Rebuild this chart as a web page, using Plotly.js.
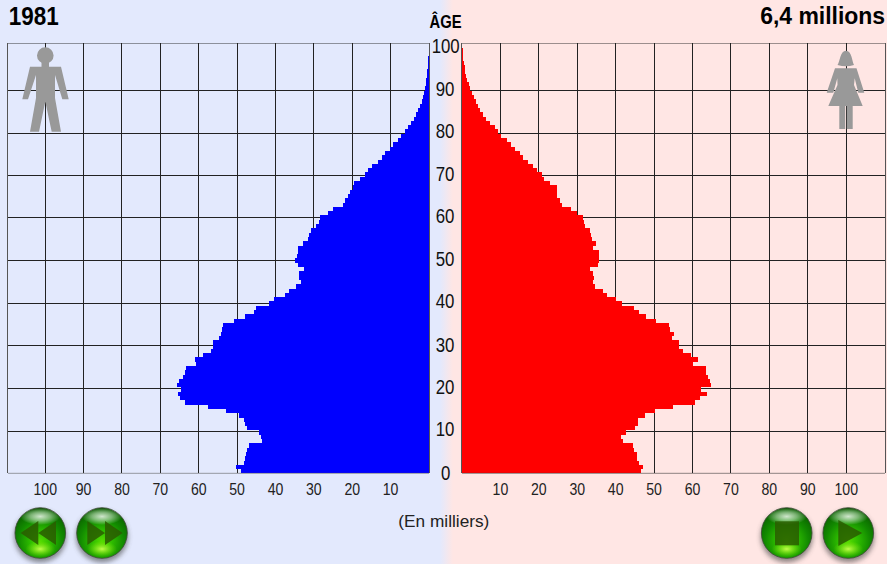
<!DOCTYPE html>
<html><head><meta charset="utf-8">
<script src="https://cdn.plot.ly/plotly-3.0.1.min.js"></script>
<style>
html,body{margin:0;padding:0;width:887px;height:564px;overflow:hidden;background:linear-gradient(to right,#e3e9fd 0,#e3e9fd 440px,#ffe6e4 453px,#ffe6e4 100%);}
#c{width:887px;height:564px;}
</style></head><body><div id="c"></div>
<script>
var ages=[0,1,2,3,4,5,6,7,8,9,10,11,12,13,14,15,16,17,18,19,20,21,22,23,24,25,26,27,28,29,30,31,32,33,34,35,36,37,38,39,40,41,42,43,44,45,46,47,48,49,50,51,52,53,54,55,56,57,58,59,60,61,62,63,64,65,66,67,68,69,70,71,72,73,74,75,76,77,78,79,80,81,82,83,84,85,86,87,88,89,90,91,92,93,94,95,96,97,98,99];
var men=[49,50.3,48.1,47.9,47.7,47.3,47,43.6,43.7,44.4,47.5,47.9,48.3,49.5,52.9,57.6,63.7,64.8,65.3,64.6,65.7,65.1,64,63.7,63.3,60.7,61,59,56.8,56.3,56.2,54.7,54.3,53.9,53.8,50.7,47.9,45.7,45,41.6,40.4,37.5,36.6,34.6,33.4,33.8,34,32.7,34.2,35,34.5,34.2,34.2,32.9,31.6,31.2,30.8,29.5,28.6,28.4,26.4,24.9,22.3,22,21.2,20.7,19.9,19.5,18.1,16.7,15.8,14.8,13.2,12.2,11.5,10.2,9.3,8.2,7.3,6.3,5.4,4.6,3.9,3.4,2.8,2.3,1.9,1.6,1.3,1,0.85,0.7,0.55,0.4,0.3,0.22,0.16,0.12,0.08,0.05];
var women=[46.5,47.1,46,45.6,45.6,44.7,44.5,41.9,41.4,42.6,45.1,45.8,45.7,47.7,50.3,54.8,60.6,61.9,63.8,62.3,64.9,64.5,64.1,63.6,63.5,60.2,61.5,59.5,57.6,56.5,56.5,54.7,55.1,54.1,53.9,50.4,47.8,46.1,44.8,41.7,40.2,37.8,36.7,34.5,34.1,34.4,34.1,33.4,35.4,35.7,35.7,35.7,34.1,34.8,33.9,33.7,33.3,32.1,31.8,31.5,30,28.3,26,25.4,24.8,24.7,24.7,22.8,21.3,20.7,19.5,18.4,17.1,16,15,13.9,12.8,11.7,10.2,9.4,8.6,7.2,6.2,5.5,4.8,4.2,3.6,3,2.5,2,1.7,1.4,1.1,0.85,0.65,0.5,0.35,0.25,0.15,0.08];
var xTicks=[10,20,30,40,50,60,70,80,90,100];
var xLabels=['10','20','30','40','50','60','70','80','90','100'];
var gridAges=[0,9.84,19.77,29.77,39.44,49.53,59.44,69.37,79.07,89.14,100];
var ageLabels=['0','10','20','30','40','50','60','70','80','90','100'];
var ageLabelPos=[0,10.4,20.1,29.9,40,49.9,59.9,69.6,79.6,89.5,99.5];
var font='Liberation Sans';

var W=887,H=564;
function px(x){return x/W;} function py(y){return 1-y/H;}
function path(pts){return pts.map(function(s){
  var o=s[0]+' ';var c=[];for(var i=1;i<s.length;i+=2){c.push(px(s[i])+','+py(s[i+1]));}
  return o+c.join(' ');}).join(' ')+' Z';}
var gray='#999999';
function fig(pts){return {type:'path',xref:'paper',yref:'paper',path:path(pts),fillcolor:gray,line:{width:0},layer:'above'};}
function edge(xr,yr,v,c){return {type:'line',xref:xr+' domain',yref:yr,x0:0,x1:1,y0:v,y1:v,line:{color:c,width:1},layer:'above'};}
var shapes=[
 edge('x','y',100,'#222'),edge('x','y',0,'#555'),edge('x2','y2',100,'#222'),edge('x2','y2',0,'#333'),
 {type:'circle',xref:'paper',yref:'paper',x0:px(37),x1:px(53.6),y0:py(47.2),y1:py(63.8),fillcolor:gray,line:{width:0},layer:'above'},
 fig([['M',41.5,60],['L',49,60],['L',49,66.7],['L',61,66.7],['L',68.7,99.3],['L',62.3,99.3],['L',55,75],['L',55,98],['L',61,131.7],['L',51.7,131.7],['L',45.3,101.7],['L',39,131.7],['L',30,131.7],['L',36,98],['L',36,75],['L',28,99.3],['L',22.3,99.3],['L',30,66.7],['L',41.5,66.7]]),
 fig([['M',837.5,65],['C',840,62,840,50.7,846,50.7],['C',852,50.7,852,62,854,65],['Q',846,67.5,837.5,65]]),
 fig([['M',835,68.3],['L',856.5,68.3],['L',864.3,92.7],['L',858.3,92.7],['L',854.7,78.3],['L',854,85],['L',862.7,106],['L',852.7,106],['L',852.7,129],['L',846.8,129],['L',846.8,106],['L',845.2,106],['L',845.2,129],['L',839.3,129],['L',839.3,106],['L',828.3,106],['L',837.5,85],['L',837.3,78.3],['L',833.3,92.7],['L',826.7,92.7]])
];
function btn(inner,cx,cy){
 var s=70;
 var svg='<svg xmlns="http://www.w3.org/2000/svg" width="70" height="70" viewBox="-35 -35 70 70"><defs>'+
 '<radialGradient id="g" cx="0.5" cy="0.66" r="0.66"><stop offset="0" stop-color="#55dc00"/><stop offset="0.3" stop-color="#2ebc00"/><stop offset="0.65" stop-color="#128a00"/><stop offset="0.9" stop-color="#0c6a00"/><stop offset="1" stop-color="#0a4c00"/></radialGradient>'+
 '<radialGradient id="h" cx="0.5" cy="0.5" r="0.5"><stop offset="0" stop-color="#ffffff" stop-opacity="0.8"/><stop offset="0.5" stop-color="#ffffff" stop-opacity="0.45"/><stop offset="1" stop-color="#ffffff" stop-opacity="0"/></radialGradient>'+
 '<radialGradient id="b" cx="0.5" cy="0.5" r="0.5"><stop offset="0" stop-color="#c8ff50" stop-opacity="0.95"/><stop offset="1" stop-color="#80e800" stop-opacity="0"/></radialGradient>'+
 '<filter id="f" x="-30%" y="-30%" width="160%" height="160%"><feGaussianBlur stdDeviation="2.6"/></filter></defs>'+
 '<circle cx="0" cy="3.5" r="26" fill="#444" opacity="0.6" filter="url(#f)"/>'+
 '<circle r="25.3" fill="url(#g)" stroke="#3d4a36" stroke-width="0.8"/>'+
 '<ellipse cx="0" cy="-16.5" rx="20" ry="8.5" fill="url(#h)"/>'+
 '<ellipse cx="0" cy="16" rx="15" ry="8" fill="url(#b)"/>'+inner+'</svg>';
 return {source:'data:image/svg+xml;base64,'+btoa(svg),xref:'paper',yref:'paper',x:px(cx-35),y:py(cy-35),sizex:s/W,sizey:s/H,xanchor:'left',yanchor:'top',sizing:'stretch',layer:'above'};
}
var gf='fill="#2a5c00" fill-opacity="0.85"';
var images=[
 btn('<path '+gf+' d="M-19.7,0 L-2,-12 L-2,12 Z M-2,0 L15.7,-12 L15.7,12 Z"/>',40.3,533),
 btn('<path '+gf+' d="M-14.7,-12 L3,0 L-14.7,12 Z M3,-12 L20.7,0 L3,12 Z"/>',102,533),
 btn('<rect '+gf+' x="-11.7" y="-11.7" width="24" height="24"/>',786.7,533),
 btn('<path '+gf+' d="M-10,-13 L14,0 L-10,13 Z"/>',848.3,533)
];
var annotations=[
 {text:'1981',xref:'paper',yref:'paper',x:px(34),y:py(16),xanchor:'center',yanchor:'middle',showarrow:false,font:{family:font,size:25,weight:700,color:'#000'}},
 {text:'6,4 millions',xref:'paper',yref:'paper',x:px(822),y:py(16),xanchor:'center',yanchor:'middle',showarrow:false,font:{family:font,size:23,weight:700,color:'#000'}},
 {text:'ÂGE',xref:'paper',yref:'paper',x:px(445.5),y:py(21),xanchor:'center',yanchor:'middle',showarrow:false,font:{family:font,size:19,weight:700,color:'#000'}},
 {text:'(En milliers)',xref:'paper',yref:'paper',x:px(443.5),y:py(521),xanchor:'center',yanchor:'middle',showarrow:false,font:{family:font,size:17,color:'#222'}}
];
ageLabels.forEach(function(t,i){annotations.push({text:t,xref:'paper',yref:'y',x:px(445),y:ageLabelPos[i],xanchor:'center',yanchor:'middle',showarrow:false,font:{family:font,size:20,color:'#111'}});});
var d0=1-473.4/H,d1=1-43.4/H;
function xax(dom,rng){return {domain:dom,range:rng,tickmode:'array',tickvals:xTicks,ticktext:xLabels,showgrid:true,gridcolor:'#222',gridwidth:1,zeroline:false,showline:false,ticks:'',ticklabelstandoff:5,tickfont:{family:font,size:16,color:'#222'},fixedrange:true};}
function yax(anchor){return {anchor:anchor,domain:[d0,d1],range:[0,100],tickmode:'array',tickvals:gridAges,showticklabels:false,showgrid:true,gridcolor:'#222',gridwidth:1,zeroline:false,showline:true,mirror:true,linecolor:'#555',linewidth:1,ticks:'',fixedrange:true};}
var common={type:'bar',orientation:'h',width:1,offset:0,hoverinfo:'skip'};
var t1=Object.assign({},common,{x:men,y:ages,xaxis:'x',yaxis:'y',marker:{color:'#0000ff',line:{width:0}}});
var t2=Object.assign({},common,{x:women,y:ages,xaxis:'x2',yaxis:'y2',marker:{color:'#ff0000',line:{width:0}}});
var layout={width:W,height:H,margin:{l:0,r:0,t:0,b:0},paper_bgcolor:'rgba(0,0,0,0)',plot_bgcolor:'rgba(0,0,0,0)',showlegend:false,bargap:0,
 xaxis:xax([8/W,429/W],[109.7,0]),xaxis2:Object.assign(xax([462/W,885/W],[0,110.1]),{anchor:'y2'}),
 yaxis:yax('x'),yaxis2:yax('x2'),shapes:shapes,images:images,annotations:annotations};
var targets={'1981':50,'6,4 millions':125,'ÂGE':32,'(En milliers)':91};
Plotly.newPlot('c',[t1,t2],layout,{displayModeBar:false,staticPlot:true}).then(function(){
 function squeeze(el,w){el.setAttribute('lengthAdjust','spacingAndGlyphs');el.setAttribute('textLength',w);}
 document.querySelectorAll('.annotation-text').forEach(function(el){
  var t=el.textContent,len=el.getComputedTextLength();
  squeeze(el,targets[t]||len*0.84);
 });
 document.querySelectorAll('.xtick text,.x2tick text').forEach(function(el){squeeze(el,el.getComputedTextLength()*0.88);});
});
</script></body></html>
